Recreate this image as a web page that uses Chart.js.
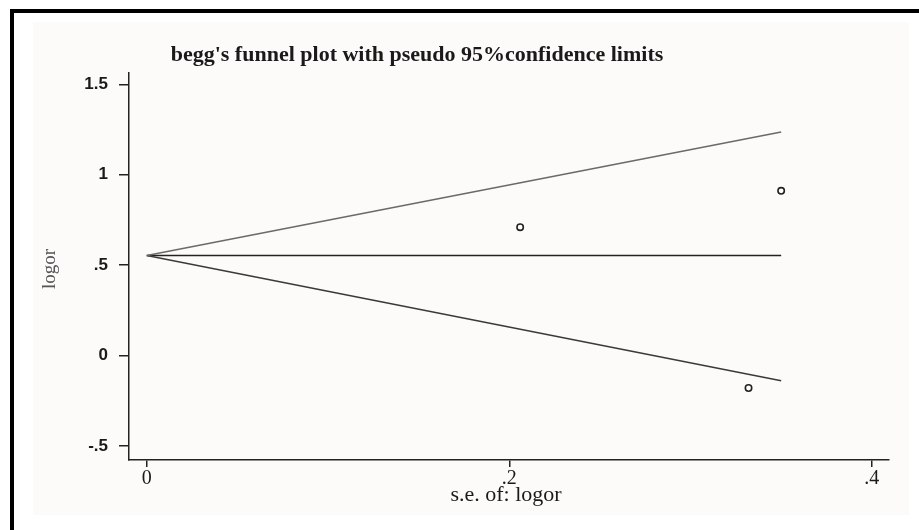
<!DOCTYPE html>
<html>
<head>
<meta charset="utf-8">
<script src="https://cdn.jsdelivr.net/npm/chart.js@4.4.1/dist/chart.umd.min.js"></script>
<style>
  html, body { margin: 0; padding: 0; background: #ffffff; }
  #wrap { width: 919px; height: 530px; }
</style>
</head>
<body>
<div id="wrap"><canvas id="c" width="919" height="530"></canvas></div>
<script>
// ---- data ----
const studySE = [0.206, 0.350, 0.332];
const studyLogOR = [0.710, 0.911, -0.179];
const funnelSE = [0, 0.350];
const pooledLine = [0.553, 0.553];
const upperLimit = [0.553, 1.236];
const lowerLimit = [0.553, -0.139];
const xTickValues = [0, 0.2, 0.4];
const xTickLabels = ['0', '.2', '.4'];
const yTickValues = [-0.5, 0, 0.5, 1, 1.5];
const yTickLabels = ['-.5', '0', '.5', '1', '1.5'];
const titleText = "begg's funnel plot with pseudo 95%confidence limits";
const xTitle = 's.e. of: logor';
const yTitle = 'logor';

const toPts = (xs, ys) => xs.map((x, i) => ({ x: x, y: ys[i] }));

const framePlugin = {
  id: 'frame',
  beforeDraw(chart) {
    const ctx = chart.ctx;
    ctx.save();
    ctx.fillStyle = '#ffffff';
    ctx.fillRect(0, 0, 919, 530);
    ctx.fillStyle = '#fcfbfa';
    ctx.fillRect(33, 22, 876, 493);
    ctx.fillStyle = '#000000';
    ctx.fillRect(10, 9, 909, 4);
    ctx.fillRect(10, 9, 4, 521);
    ctx.restore();
  },
  afterDraw(chart) {
    const ctx = chart.ctx;
    ctx.save();
    ctx.fillStyle = '#1a1a1a';
    ctx.textAlign = 'center';
    ctx.textBaseline = 'middle';
    ctx.font = 'bold 22px "Liberation Serif", serif';
    ctx.fillText(titleText, 417, 55);
    ctx.font = '22px "Liberation Serif", serif';
    ctx.fillText(xTitle, 506, 495);
    ctx.translate(50, 269);
    ctx.rotate(-Math.PI / 2);
    ctx.fillStyle = '#555555';
    ctx.font = '19px "Liberation Serif", serif';
    ctx.fillText(yTitle, 0, 0);
    ctx.restore();
  }
};

new Chart(document.getElementById('c'), {
  type: 'scatter',
  data: {
    datasets: [
      { data: toPts(funnelSE, upperLimit), showLine: true, borderColor: '#6a6a6a', borderWidth: 1.5, pointRadius: 0, fill: false },
      { data: toPts(funnelSE, lowerLimit), showLine: true, borderColor: '#3a3a3a', borderWidth: 1.5, pointRadius: 0, fill: false },
      { data: toPts(funnelSE, pooledLine), showLine: true, borderColor: '#222222', borderWidth: 1.5, pointRadius: 0, fill: false },
      { data: toPts(studySE, studyLogOR), showLine: false, pointStyle: 'circle', pointRadius: 3.2, pointBorderWidth: 1.6,
        pointBorderColor: '#222222', pointBackgroundColor: '#ffffff' }
    ]
  },
  options: {
    responsive: false,
    animation: false,
    devicePixelRatio: 1,
    layout: { padding: { top: 73, right: 30, left: 0, bottom: 0 } },
    plugins: { legend: { display: false }, tooltip: { enabled: false }, title: { display: false } },
    scales: {
      x: {
        type: 'linear', min: -0.0098, max: 0.4095,
        afterFit(s) { s.height = 70; },
        afterBuildTicks(s) { s.ticks = xTickValues.map(v => ({ value: v })); },
        grid: { drawOnChartArea: false, drawTicks: true, tickLength: 7, color: '#222222', lineWidth: 1.5 },
        border: { display: true, color: '#222222', width: 1.5 },
        ticks: {
          padding: 0, color: '#1a1a1a', maxRotation: 0, autoSkip: false,
          font: { family: '"Liberation Serif", serif', size: 20 },
          callback(v) { const i = xTickValues.indexOf(v); return i >= 0 ? xTickLabels[i] : ''; }
        }
      },
      y: {
        type: 'linear', min: -0.577, max: 1.5625,
        afterFit(s) { s.width = 129; },
        afterBuildTicks(s) { s.ticks = yTickValues.map(v => ({ value: v })); },
        grid: { drawOnChartArea: false, drawTicks: true, tickLength: 10, color: '#222222', lineWidth: 1.5 },
        border: { display: true, color: '#222222', width: 1.5 },
        ticks: {
          padding: 11, color: '#1a1a1a', autoSkip: false,
          font: { family: '"Liberation Sans", Arial, sans-serif', size: 17, weight: 'bold' },
          callback(v) { const i = yTickValues.indexOf(v); return i >= 0 ? yTickLabels[i] : ''; }
        }
      }
    }
  },
  plugins: [framePlugin]
});
</script>
</body>
</html>
